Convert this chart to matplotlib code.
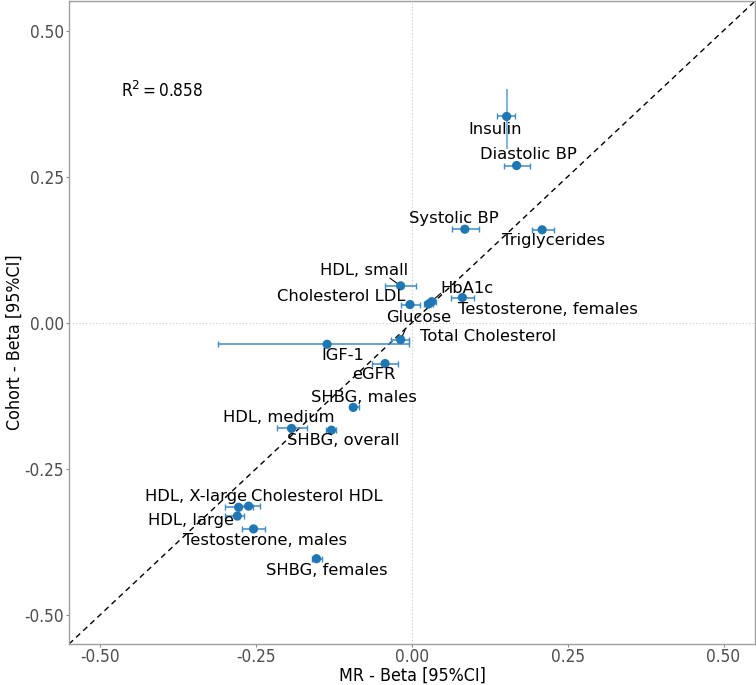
import matplotlib
matplotlib.use("Agg")
import matplotlib.pyplot as plt
import numpy as np

names = ["Insulin", "Diastolic BP", "Systolic BP", "Triglycerides", "HDL, small",
         "Cholesterol LDL", "HbA1c", "Glucose", "Testosterone, females",
         "Total Cholesterol", "IGF-1", "eGFR", "SHBG, males", "HDL, medium",
         "SHBG, overall", "HDL, X-large", "Cholesterol HDL", "HDL, large",
         "Testosterone, males", "SHBG, females"]
mr_beta = [0.152, 0.168, 0.085, 0.209, -0.018, -0.003, 0.027, 0.032, 0.081,
           -0.018, -0.136, -0.043, -0.094, -0.193, -0.129, -0.278, -0.262,
           -0.280, -0.254, -0.153]
mr_lo = [0.137, 0.147, 0.064, 0.192, -0.043, -0.018, 0.020, 0.026, 0.062,
         -0.034, -0.311, -0.064, -0.100, -0.217, -0.137, -0.300, -0.280,
         -0.300, -0.273, -0.161]
mr_hi = [0.166, 0.190, 0.107, 0.228, 0.006, 0.013, 0.034, 0.038, 0.100,
         -0.005, -0.005, -0.022, -0.085, -0.169, -0.121, -0.255, -0.243,
         -0.270, -0.235, -0.144]
co_beta = [0.353, 0.269, 0.160, 0.159, 0.063, 0.031, 0.032, 0.036, 0.043,
           -0.029, -0.037, -0.070, -0.145, -0.181, -0.184, -0.316, -0.314,
           -0.331, -0.353, -0.404]
co_lo = [0.298, 0.265, 0.156, 0.155, 0.059, 0.027, 0.028, 0.032, 0.039,
         -0.033, -0.041, -0.074, -0.149, -0.185, -0.188, -0.320, -0.318,
         -0.335, -0.357, -0.408]
co_hi = [0.400, 0.273, 0.164, 0.163, 0.067, 0.035, 0.036, 0.040, 0.047,
         -0.025, -0.033, -0.066, -0.141, -0.177, -0.180, -0.312, -0.310,
         -0.327, -0.349, -0.400]
r2_text = "0.858"

# label positions (layout)
label_pos = [(0.134, 0.331), (0.187, 0.288), (0.067, 0.179), (0.227, 0.140),
             (-0.077, 0.090), (-0.113, 0.044), (0.089, 0.058), (0.011, 0.009),
             (0.219, 0.022), (0.123, -0.024), (-0.110, -0.056), (-0.061, -0.089),
             (-0.077, -0.128), (-0.214, -0.162), (-0.110, -0.201), (-0.347, -0.297),
             (-0.153, -0.297), (-0.355, -0.338), (-0.236, -0.372), (-0.136, -0.425)]
connectors = {"HDL, small": (-0.035, 0.076), "HbA1c": (0.046, 0.050),
              "Total Cholesterol": (-0.011, -0.013)}

fig = plt.figure(figsize=(7.56, 6.85), dpi=100)
ax = fig.add_axes([0.0913, 1 - 644 / 685, 0.907, 0.998 - (1 - 644 / 685)])

lim = (-0.55, 0.55)
ax.set_xlim(lim)
ax.set_ylim(lim)
ax.axhline(0, color="#c8c8c8", lw=0.8, ls=(0, (1, 2)), zorder=0)
ax.axvline(0, color="#c8c8c8", lw=0.8, ls=(0, (1, 2)), zorder=0)
ax.plot(lim, lim, color="black", lw=1.0, ls=(0, (4, 3)), zorder=1)

x = np.array(mr_beta); y = np.array(co_beta)
xerr = np.vstack([x - np.array(mr_lo), np.array(mr_hi) - x])
yerr = np.vstack([y - np.array(co_lo), np.array(co_hi) - y])
ax.errorbar(x, y, yerr=yerr, fmt="none", ecolor="#5a9fd4",
            elinewidth=1.1, capsize=0, zorder=2)
ax.errorbar(x, y, xerr=xerr, fmt="none", ecolor="#3a8ccb",
            elinewidth=1.1, capsize=2, capthick=1.0, zorder=2)
ax.scatter(x, y, s=44, color="#1f77b4", zorder=3, edgecolors="none")

for n, (lx, ly), px, py in zip(names, label_pos, x, y):
    ax.text(lx, ly, n, ha="center", va="center", fontsize=11.8, color="black", zorder=4)
    if n in connectors:
        cx, cy = connectors[n]
        ax.plot([cx, px], [cy, py], color="black", lw=0.8, zorder=2)

ax.text(-0.466, 0.396, r"R$^2$$\,$=$\,$" + r2_text, ha="left", va="center",
        fontsize=12.3, family="DejaVu Sans", fontstretch="condensed")

ticks = [-0.5, -0.25, 0.0, 0.25, 0.5]
ax.set_xticks(ticks)
ax.set_yticks(ticks)
tkw = dict(fontsize=12.3, color="#4d4d4d", family="DejaVu Sans", fontstretch="condensed")
ax.set_xticklabels([f"{t:.2f}" for t in ticks], **tkw)
ax.set_yticklabels([f"{t:.2f}" for t in ticks], **tkw)
ax.tick_params(length=2, color="#888888", width=0.8, pad=1.5)
ax.tick_params(axis="x", pad=1)
for s in ax.spines.values():
    s.set_color("#a0a0a0")
    s.set_linewidth(1.0)
ax.set_xlabel("MR - Beta [95%CI]", fontsize=12.8, family="DejaVu Sans",
              fontstretch="condensed", va="bottom")
ax.xaxis.set_label_coords(0.5456, 0.5 / 685, transform=fig.transFigure)
ax.set_ylabel("Cohort - Beta [95%CI]", fontsize=12.8, family="DejaVu Sans",
              fontstretch="condensed", va="center")
ax.yaxis.set_label_coords(15 / 756, 0.5, transform=fig.transFigure)

fig.savefig("out.png", dpi=100)
